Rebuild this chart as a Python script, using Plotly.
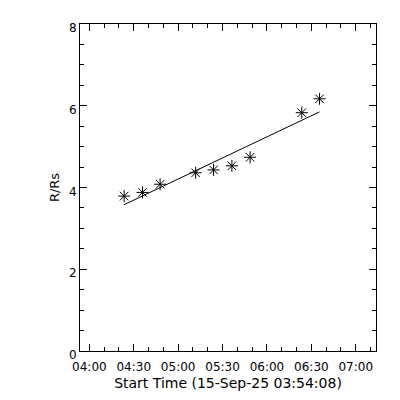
import plotly.graph_objects as go

# Data
times = [
    "2025-09-15 04:23:30",
    "2025-09-15 04:35:54",
    "2025-09-15 04:47:48",
    "2025-09-15 05:11:48",
    "2025-09-15 05:23:54",
    "2025-09-15 05:36:18",
    "2025-09-15 05:48:36",
    "2025-09-15 06:23:30",
    "2025-09-15 06:35:30",
]
r_rs = [3.79, 3.88, 4.08, 4.36, 4.43, 4.53, 4.74, 5.83, 6.17]

fit_times = ["2025-09-15 04:23:30", "2025-09-15 06:35:30"]
fit_r_rs = [3.58, 5.85]

x_range = ["2025-09-15 03:53:40", "2025-09-15 07:13:40"]
y_range = [0, 8]

font_family = "DejaVu Sans"

fig = go.Figure()
fig.add_trace(go.Scatter(
    x=fit_times, y=fit_r_rs, mode="lines",
    line=dict(color="black", width=1), showlegend=False, hoverinfo="skip",
))
fig.add_trace(go.Scatter(
    x=times, y=r_rs, mode="markers",
    marker=dict(symbol="asterisk-open", size=10, color="black",
                line=dict(color="black", width=1)),
    showlegend=False,
))

fig.update_layout(
    width=400, height=400,
    margin=dict(l=80, r=24, t=24, b=49),
    paper_bgcolor="white", plot_bgcolor="white",
    font=dict(family=font_family, size=12, color="black"),
    xaxis=dict(
        type="date", range=x_range,
        tick0="2025-09-15 04:00:00", dtick=1800000, tickformat="%H:%M",
        ticks="inside", ticklen=7, tickwidth=1, tickcolor="black",
        minor=dict(dtick=600000, tick0="2025-09-15 04:00:00", ticks="inside",
                   ticklen=4, tickwidth=1, tickcolor="black", showgrid=False),
        showline=True, linecolor="black", linewidth=1, mirror="ticks",
        showgrid=False, zeroline=False,
        ticklabelstandoff=5,
        title=dict(text="Start Time (15-Sep-25 03:54:08)", standoff=4,
                   font=dict(size=14)),
        tickfont=dict(size=12),
    ),
    yaxis=dict(
        range=y_range, dtick=2, tick0=0,
        ticks="inside", ticklen=7, tickwidth=1, tickcolor="black",
        minor=dict(dtick=0.5, ticks="inside", ticklen=4, tickwidth=1,
                   tickcolor="black", showgrid=False),
        showline=True, linecolor="black", linewidth=1, mirror="ticks",
        showgrid=False, zeroline=False,
        ticklabelshift=4,
        title=dict(text="R/Rs", standoff=6, font=dict(size=13)),
        tickfont=dict(size=12),
    ),
)

fig.write_html("out.html", config={"displayModeBar": False},
               post_script="document.body.style.margin='0';")
